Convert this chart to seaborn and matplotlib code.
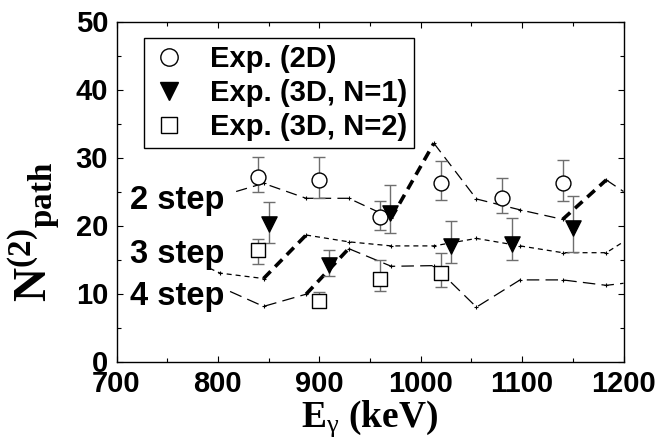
import numpy as np
import pandas as pd
import matplotlib
matplotlib.use("Agg")
import matplotlib.pyplot as plt
import seaborn as sns
from matplotlib.lines import Line2D
from matplotlib.ticker import MultipleLocator

# ---------------- data ----------------
exp2d_x = [840, 900, 960, 1020, 1080, 1140]
exp2d_y = [27.2, 26.7, 21.2, 26.3, 24.0, 26.3]
exp2d_top = [30.1, 30.1, 23.6, 29.5, 27.0, 29.6]
exp2d_bot = [25.0, 24.0, 19.4, 23.8, 21.9, 23.6]

exp3d1_x = [850, 910, 970, 1030, 1090, 1150]
exp3d1_y = [20.2, 14.2, 21.8, 17.0, 17.3, 19.6]
exp3d1_top = [23.4, 16.4, 26.0, 20.6, 21.1, 24.3]
exp3d1_bot = [17.5, 12.6, 18.9, 14.5, 14.9, 16.1]

exp3d2_x = [840, 900, 960, 1020]
exp3d2_y = [16.4, 8.9, 12.2, 13.0]
exp3d2_top = [18.0, 10.2, 15.0, 15.9]
exp3d2_bot = [14.4, 8.0, 10.3, 10.9]

step2_x = [818, 845, 887, 929, 971, 1013, 1055, 1098, 1140, 1183, 1200]
step2_y = [25.0, 26.2, 24.0, 24.0, 21.1, 32.1, 23.9, 22.3, 20.9, 26.7, 25.0]
step2_bold = [0, 0, 0, 0, 1, 0, 0, 0, 1, 0]   # per segment

step3_x = [792, 802, 845, 887, 929, 971, 1013, 1055, 1098, 1140, 1183, 1200]
step3_y = [13.7, 13.0, 12.2, 18.6, 17.6, 17.0, 17.0, 18.1, 17.0, 16.0, 16.0, 17.6]
step3_bold = [0, 0, 1, 0, 0, 0, 0, 0, 0, 0, 0]

step4_x = [812, 845, 887, 929, 971, 1013, 1055, 1098, 1140, 1183, 1200]
step4_y = [10.3, 8.1, 9.9, 16.6, 14.0, 14.1, 8.0, 12.0, 12.0, 11.2, 11.5]
step4_bold = [0, 0, 1, 0, 0, 0, 0, 0, 0, 0]

curve_labels = ["2 step", "3 step", "4 step"]
curve_label_pos = [(713, 22.5), (713, 14.5), (713, 8.3)]
legend_labels = ["Exp. (2D)", "Exp. (3D, N=1)", "Exp. (3D, N=2)"]
xticks = [700, 800, 900, 1000, 1100, 1200]
yticks = [0, 10, 20, 30, 40, 50]

# ---------------- style ----------------
sns.set_theme(style="ticks")
plt.rcParams["font.family"] = ["Liberation Sans", "DejaVu Sans"]
plt.rcParams["mathtext.fontset"] = "custom"
plt.rcParams["mathtext.rm"] = "Liberation Serif"
plt.rcParams["mathtext.bf"] = "Liberation Serif:bold"
plt.rcParams["mathtext.it"] = "Liberation Serif"
for k in ["text.color", "axes.labelcolor", "xtick.color", "ytick.color",
          "axes.edgecolor"]:
    plt.rcParams[k] = "black"

W, H = 661, 438
fig = plt.figure(figsize=(W / 100, H / 100), dpi=100)
ax = fig.add_axes([116.5 / W, 1 - 361.5 / H, 507 / W, 340 / H])

thin_dash = {0: (9.0, 5.0), 1: (4.0, 3.2), 2: (10.0, 5.0)}


def draw_curve(xs, ys, bold, idx):
    runs = []
    start = 0
    for i in range(1, len(bold) + 1):
        if i == len(bold) or bold[i] != bold[start]:
            runs.append((start, i, bold[start]))
            start = i
    for s, e, b in runs:
        df = pd.DataFrame({"E": xs[s:e + 1], "N": ys[s:e + 1]})
        if b:
            sns.lineplot(data=df, x="E", y="N", ax=ax, color="black", lw=2.6,
                         sort=False, estimator=None, zorder=2)
            ax.lines[-1].set_dashes((2.8, 1.8))
        else:
            sns.lineplot(data=df, x="E", y="N", ax=ax, color="black", lw=0.9,
                         sort=False, estimator=None, zorder=2)
            ax.lines[-1].set_dashes(thin_dash[idx])
    kx = xs[1:-1]
    ky = ys[1:-1]
    sns.scatterplot(x=kx, y=ky, ax=ax, marker="+", s=10, color="black",
                    linewidth=0.8, zorder=2, legend=False)


draw_curve(step2_x, step2_y, step2_bold, 0)
draw_curve(step3_x, step3_y, step3_bold, 1)
draw_curve(step4_x, step4_y, step4_bold, 2)


def draw_exp(xs, ys, top, bot, marker, face, size):
    lo = np.array(ys) - np.array(bot)
    hi = np.array(top) - np.array(ys)
    ax.errorbar(xs, ys, yerr=[lo, hi], fmt="none", ecolor="#6e6e6e",
                elinewidth=1.0, capsize=4, capthick=1.0, zorder=3)
    sns.scatterplot(x=xs, y=ys, ax=ax, marker=marker, s=size, color=face,
                    edgecolor="black", linewidth=1.0, zorder=5, legend=False)


draw_exp(exp2d_x, exp2d_y, exp2d_top, exp2d_bot, "o", "white", 115)
draw_exp(exp3d1_x, exp3d1_y, exp3d1_top, exp3d1_bot, "v", "black", 120)
draw_exp(exp3d2_x, exp3d2_y, exp3d2_top, exp3d2_bot, "s", "white", 105)

for lab, (lx, ly) in zip(curve_labels, curve_label_pos):
    ax.text(lx, ly, lab, fontsize=23.5, fontweight="bold", ha="left",
            va="baseline", zorder=6)

# ---------------- axes ----------------
ax.set_xlim(700, 1200)
ax.set_ylim(0, 50)
ax.set_xticks(xticks)
ax.set_yticks(yticks)
ax.xaxis.set_minor_locator(MultipleLocator(50))
ax.yaxis.set_minor_locator(MultipleLocator(5))
ax.tick_params(which="both", direction="in", top=True, right=True,
               width=0.8, color="black")
ax.tick_params(which="major", length=4, pad=6, labelsize=21)
ax.tick_params(which="minor", length=3)
for lab in ax.get_xticklabels() + ax.get_yticklabels():
    lab.set_fontweight("bold")
for sp in ax.spines.values():
    sp.set_linewidth(1.0)
    sp.set_color("black")

ax.set_xlabel(r"$\mathbf{E}_{\gamma}$ (keV)", fontsize=27,
              fontfamily="Liberation Serif", fontweight="bold", labelpad=0)
ax.set_ylabel(r"$\mathbf{N}^{\mathbf{(2)}}{}_{\mathbf{path}}$", fontsize=34)
ax.yaxis.set_label_coords(-0.105, 0.38)

handles = [
    Line2D([], [], ls="", marker="o", mfc="white", mec="black", ms=12.5, mew=1.0),
    Line2D([], [], ls="", marker="v", mfc="black", mec="black", ms=12.5, mew=1.0),
    Line2D([], [], ls="", marker="s", mfc="white", mec="black", ms=11.5, mew=1.0),
]
leg = ax.legend(handles, legend_labels, loc="upper left",
                bbox_to_anchor=(0.0542, 0.9515), borderaxespad=0,
                frameon=True, fancybox=False, edgecolor="black", framealpha=1,
                prop={"family": "Liberation Sans", "weight": "bold", "size": 21},
                handlelength=1.2, handletextpad=0.8, labelspacing=0.2,
                borderpad=0.25)
leg.get_frame().set_linewidth(1.0)

fig.savefig("out.png", dpi=100)
